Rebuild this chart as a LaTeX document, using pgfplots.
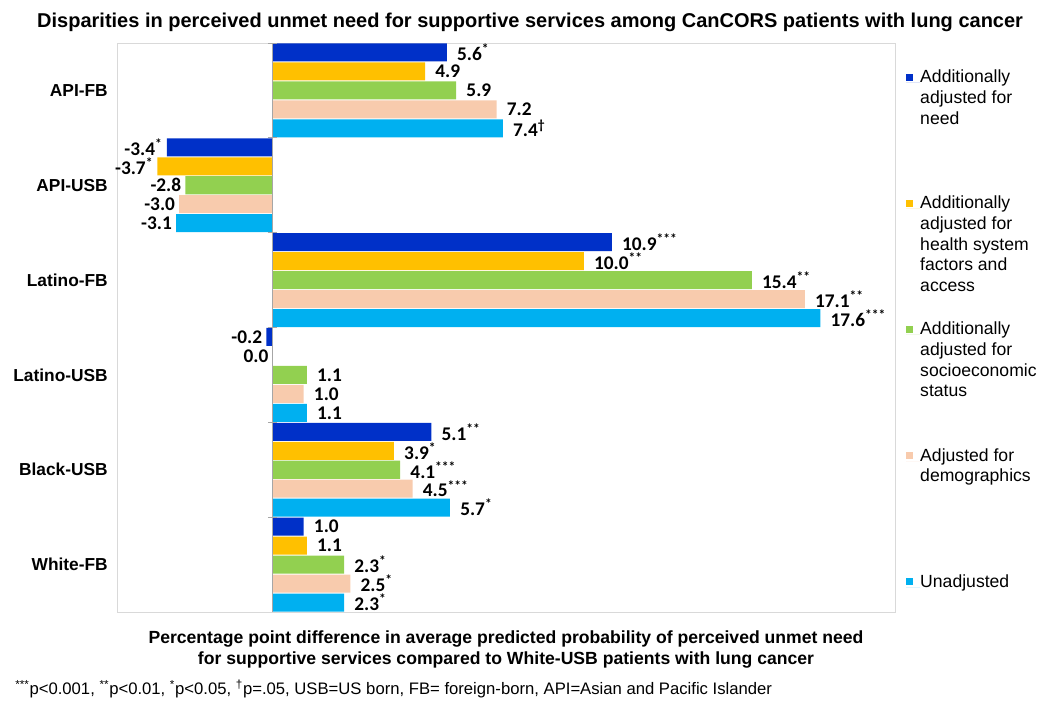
\documentclass[border=0pt]{standalone}
\usepackage{pgfplots}
\pgfplotsset{compat=1.18}
\usepackage{fontspec}
\setmainfont{Liberation Sans}
\newfontfamily\carlito{Carlito}
\definecolor{cNeed}{HTML}{0030C8}
\definecolor{cHealth}{HTML}{FFC000}
\definecolor{cSES}{HTML}{92D050}
\definecolor{cDemo}{HTML}{F8CBAD}
\definecolor{cUnadj}{HTML}{00B0F0}
\definecolor{frame}{HTML}{D9D9D9}
\definecolor{zeroline}{HTML}{A6A6A6}
\newcommand{\st}[1]{\textsuperscript{#1}}
\begin{document}
\begin{tikzpicture}
\useasboundingbox (-87.75pt,-67.5pt) rectangle (690pt,459pt);
\begin{axis}[
  name=ax, at={(0,0)}, anchor=south west,
  scale only axis, width=583.5pt, height=426.75pt,
  xbar, bar width=0.19,
  xmin=-5, xmax=20, ymin=-0.5, ymax=5.5, y dir=reverse,
  xtick=\empty,
  ytick={0,1,2,3,4,5},
  yticklabels={API-FB,API-USB,Latino-FB,Latino-USB,Black-USB,White-FB},
  major tick length=0pt,
  yticklabel style={font=\fontsize{13}{15}\selectfont\bfseries, inner sep=0pt, xshift=-6.75pt},
  axis line style={draw=frame},
  title={Disparities in perceived unmet need for supportive services among CanCORS patients with lung cancer},
  title style={font=\bfseries\fontsize{15}{17}\selectfont, at={(axis description cs:0.531,1)}, anchor=base, yshift=5.5pt, inner sep=0pt},
  xlabel={Percentage point difference in average predicted probability of perceived unmet need\\for supportive services compared to White-USB patients with lung cancer},
  xlabel style={align=center, font=\bfseries\fontsize{13.2}{15.75}\selectfont, at={(axis description cs:0.5,0)}, anchor=north, yshift=-14pt, inner sep=0pt},
  point meta=explicit symbolic,
  nodes near coords,
  visualization depends on={rawx \as \rawx},
  every node near coord/.append style={font=\carlito\bfseries\fontsize{14.5}{15}\selectfont, inner sep=0pt,
     /utils/exec={\pgfmathparse{\rawx>0}\ifdim\pgfmathresult pt>0.5pt \def\myanc{west}\def\myxs{7.5pt}\else\def\myanc{east}\def\myxs{-3pt}\fi},
     anchor=\myanc, xshift=\myxs},
  legend image code/.code={\fill[#1] (0pt,1.3pt) rectangle (5.2pt,6.6pt); \path (0pt,0pt) -- (10.5pt,0pt);},
  legend style={draw=none, fill=none, inner sep=0pt, row sep=83.5pt, column sep=0pt,
     nodes={inner sep=0pt, anchor=base west},
     at={(axis description cs:1.0141,0.953)}, anchor=north west,
     font=\fontsize{13.2}{15.5}\selectfont},
]
\addplot[fill=cNeed, draw=none, bar shift=-0.4] coordinates {
  (5.6,0) [5.6\st{*}] (-3.4,1) [-3.4\st{*}] (10.9,2) [10.9\st{***}]
  (-0.2,3) [-0.2] (5.1,4) [5.1\st{**}] (1.0,5) [1.0]};
\addlegendentry{\parbox[t]{110pt}{Additionally\\adjusted for\\need}}
\addplot[fill=cHealth, draw=none, bar shift=-0.2] coordinates {
  (4.9,0) [4.9] (-3.7,1) [-3.7\st{*}] (10.0,2) [10.0\st{**}]
  (0.0,3) [0.0] (3.9,4) [3.9\st{*}] (1.1,5) [1.1]};
\addlegendentry{\parbox[t]{110pt}{Additionally\\adjusted for\\health system\\factors and\\access}}
\addplot[fill=cSES, draw=none, bar shift=0] coordinates {
  (5.9,0) [5.9] (-2.8,1) [-2.8] (15.4,2) [15.4\st{**}]
  (1.1,3) [1.1] (4.1,4) [4.1\st{***}] (2.3,5) [2.3\st{*}]};
\addlegendentry{\parbox[t]{110pt}{Additionally\\adjusted for\\socioeconomic\\status}}
\addplot[fill=cDemo, draw=none, bar shift=0.2] coordinates {
  (7.2,0) [7.2] (-3.0,1) [-3.0] (17.1,2) [17.1\st{**}]
  (1.0,3) [1.0] (4.5,4) [4.5\st{***}] (2.5,5) [2.5\st{*}]};
\addlegendentry{\parbox[t]{110pt}{Adjusted for\\demographics}}
\addplot[fill=cUnadj, draw=none, bar shift=0.4] coordinates {
  (7.4,0) [7.4\st{\textdagger}] (-3.1,1) [-3.1] (17.6,2) [17.6\st{***}]
  (1.1,3) [1.1] (5.7,4) [5.7\st{*}] (2.3,5) [2.3\st{*}]};
\addlegendentry{\parbox[t]{110pt}{Unadjusted}}
\draw[zeroline, line width=0.9pt] (axis cs:0,-0.5) -- (axis cs:0,5.5);
\pgfplotsinvokeforeach{-0.5,0.5,1.5,2.5,3.5,4.5}{\draw[zeroline, line width=0.9pt] (axis cs:-0.15,#1) -- (axis cs:0.15,#1);}
\end{axis}
\node[anchor=base west, inner sep=0pt, font=\fontsize{12.5}{14}\selectfont] at ([xshift=-76.5pt, yshift=-61.5pt]ax.south west)
  {\textsuperscript{***}p<0.001, \textsuperscript{**}p<0.01, \textsuperscript{*}p<0.05, \textsuperscript{\textdagger}p=.05, USB=US born, FB= foreign-born, API=Asian and Pacific Islander};
\end{tikzpicture}
\end{document}
